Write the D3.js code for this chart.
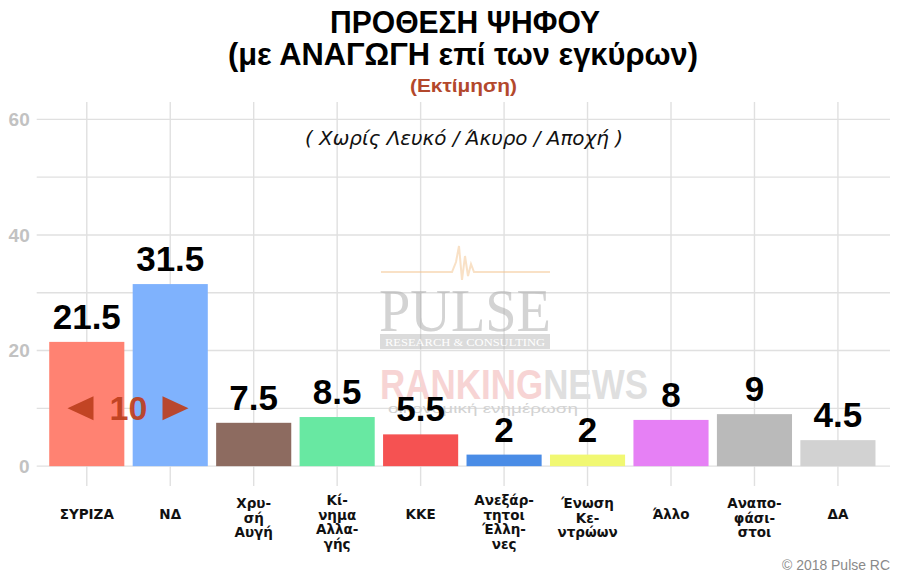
<!DOCTYPE html>
<html>
<head>
<meta charset="utf-8">
<script src="https://cdn.jsdelivr.net/npm/d3@7"></script>
<style>
html,body{margin:0;padding:0;background:#fff;}
svg{display:block;}
</style>
</head>
<body>
<svg id="chart" width="900" height="577"></svg>
<script>
// ---- data ----
const categories = ["ΣΥΡΙΖΑ","ΝΔ","Χρυσή Αυγή","Κίνημα Αλλαγής","ΚΚΕ","Ανεξάρτητοι Έλληνες","Ένωση Κεντρώων","Άλλο","Αναποφάσιστοι","ΔΑ"];
const tickLabels = [["ΣΥΡΙΖΑ"],["ΝΔ"],["Χρυ-","σή","Αυγή"],["Κί-","νημα","Αλλα-","γής"],["ΚΚΕ"],["Ανεξάρ-","τητοι","Έλλη-","νες"],["Ένωση","Κε-","ντρώων"],["Άλλο"],["Αναπο-","φάσι-","στοι"],["ΔΑ"]];
const values = [21.5,31.5,7.5,8.5,5.5,2,2,8,9,4.5];
const colors = ["#ff8272","#7fb2fd","#8d6b60","#68e8a2","#f55252","#4a8ce6","#f1f872","#e680f5","#bababa","#d2d2d2"];
const yTicks = [0,20,40,60];
const yMinorTicks = [10,30,50];
const gapValue = 10;
const titleLines = ["ΠΡΟΘΕΣΗ ΨΗΦΟΥ","(με ΑΝΑΓΩΓΗ επί των εγκύρων)"];
const estimateText = "(Εκτίμηση)";
const subtitleText = "( Χωρίς Λευκό / Άκυρο / Αποχή )";
const captionText = "© 2018 Pulse RC";

(function(){
// ---- layout ----
const svg = d3.select("#chart");
const pLeft = 36.7, pRight = 888, pTop = 102, pBottom = 483.5;
const x = d3.scaleBand().domain(categories).range([pLeft, pRight]).paddingInner(0.1).paddingOuter(0.15);
const y = d3.scaleLinear().domain([-3, 63]).range([pBottom, pTop]);

const narrow = "'Liberation Sans Narrow','Arial Narrow','Liberation Sans',Arial,sans-serif";
const sans = "'Liberation Sans',Arial,sans-serif";
const human = "'DejaVu Sans',Verdana,sans-serif";
const humanC = "'DejaVu Sans Condensed','DejaVu Sans',Verdana,sans-serif";

// gridlines
const grid = svg.append("g");
grid.selectAll("line.h").data(yTicks.concat(yMinorTicks)).join("line")
  .attr("x1", pLeft).attr("x2", 890)
  .attr("y1", d => y(d)).attr("y2", d => y(d))
  .attr("stroke", "#e0e0e0").attr("stroke-width", 1.4);
grid.selectAll("line.v").data(categories).join("line")
  .attr("x1", d => x(d) + x.bandwidth()/2).attr("x2", d => x(d) + x.bandwidth()/2)
  .attr("y1", pTop).attr("y2", pBottom + 2.5)
  .attr("stroke", "#e0e0e0").attr("stroke-width", 1.4);

// y axis labels
const yAxis = svg.append("g").attr("transform", `translate(${pLeft},0)`)
  .call(d3.axisLeft(y).tickValues(yTicks).tickSize(0).tickPadding(7));
yAxis.select(".domain").remove();
yAxis.selectAll("text").attr("font-family", sans).attr("font-weight", "bold")
  .attr("font-size", 19).attr("fill", "#c2c2c2");

// watermark: PULSE
const wm = svg.append("g").attr("opacity", 0.5);
wm.append("path")
  .attr("d", "M381,272 L452,272 L456,262 L459,246 L462,280 L465,256 L468,276 L471,264 L474,272 L550,272")
  .attr("fill", "none").attr("stroke", "#f4c48e").attr("stroke-width", 2);
wm.append("text").attr("x", 465).attr("y", 331).attr("text-anchor", "middle")
  .attr("font-family", "'Liberation Serif','Times New Roman',serif").attr("font-size", 62)
  .attr("textLength", 172).attr("lengthAdjust", "spacingAndGlyphs")
  .attr("fill", "#a8a8a8").text("PULSE");
wm.append("rect").attr("x", 380).attr("y", 334).attr("width", 170).attr("height", 15).attr("fill", "#b8b8b8");
wm.append("text").attr("x", 465).attr("y", 346).attr("text-anchor", "middle")
  .attr("font-family", "'Liberation Serif',serif").attr("font-size", 11)
  .attr("textLength", 160).attr("lengthAdjust", "spacingAndGlyphs")
  .attr("fill", "#fff").text("RESEARCH & CONSULTING");
// watermark: RANKINGNEWS
const wm2 = svg.append("text").attr("x", 380).attr("y", 399)
  .attr("font-family", sans).attr("font-weight", "bold").attr("font-size", 43)
  .attr("textLength", 268).attr("lengthAdjust", "spacingAndGlyphs");
wm2.append("tspan").attr("fill", "#f7d4d4").text("RANKING");
wm2.append("tspan").attr("fill", "#dfdfdf").text("NEWS");
svg.append("text").attr("x", 388).attr("y", 413)
  .attr("font-family", sans).attr("font-size", 12).attr("fill", "#d2d2d2")
  .attr("textLength", 190).attr("lengthAdjust", "spacingAndGlyphs")
  .text("οικονομική ενημέρωση");

// bars
svg.append("g").selectAll("rect").data(values).join("rect")
  .attr("x", (d,i) => x(categories[i]))
  .attr("width", x.bandwidth())
  .attr("y", d => y(d))
  .attr("height", d => y(0) - y(d))
  .attr("fill", (d,i) => colors[i]);

// value labels
svg.append("g").selectAll("text").data(values).join("text")
  .attr("x", (d,i) => x(categories[i]) + x.bandwidth()/2)
  .attr("y", d => y(d) - 13)
  .attr("text-anchor", "middle")
  .attr("font-family", sans).attr("font-weight", "bold").attr("font-size", 35)
  .attr("fill", "#000")
  .text(d => String(d));

// gap annotation between first two bars
const c0 = x(categories[0]) + x.bandwidth()/2, c1 = x(categories[1]) + x.bandwidth()/2;
const gx = (c0 + c1)/2, gy = y(gapValue);
const ann = svg.append("g").attr("fill", "#bd3f1e").attr("opacity", 0.92);
ann.append("text").attr("x", gx).attr("y", gy + 12).attr("text-anchor", "middle")
  .attr("font-family", sans).attr("font-weight", "bold").attr("font-size", 34)
  .text(String(gapValue));
ann.append("path").attr("d", `M${gx-35},${gy-12} L${gx-35},${gy+12} L${gx-61},${gy} Z`);
ann.append("path").attr("d", `M${gx+34},${gy-12} L${gx+34},${gy+12} L${gx+60},${gy} Z`);

// x tick labels
const xl = svg.append("g");
categories.forEach((c, i) => {
  const lines = tickLabels[i];
  const n = lines.length;
  const first = n === 1 ? 519 : 508 - (n - 3) * 3;
  const cx = x(c) + x.bandwidth()/2;
  const t = xl.append("text")
    .attr("x", cx)
    .attr("text-anchor", "middle")
    .attr("font-family", human).attr("font-weight", "bold").attr("font-size", 13.5)
    .attr("fill", "#111");
  lines.forEach((ln, k) => {
    t.append("tspan").attr("x", cx).attr("y", first + k * 14.6).text(ln);
  });
});

// titles
svg.append("text").attr("x", 465).attr("y", 33).attr("text-anchor", "middle")
  .attr("font-family", narrow).attr("font-weight", "bold").attr("font-size", 31)
  .attr("textLength", 270).attr("lengthAdjust", "spacingAndGlyphs")
  .attr("fill", "#000").text(titleLines[0]);
svg.append("text").attr("x", 463).attr("y", 65).attr("text-anchor", "middle")
  .attr("font-family", narrow).attr("font-weight", "bold").attr("font-size", 31)
  .attr("textLength", 470).attr("lengthAdjust", "spacingAndGlyphs")
  .attr("fill", "#000").text(titleLines[1]);
svg.append("text").attr("x", 463.5).attr("y", 92).attr("text-anchor", "middle")
  .attr("font-family", narrow).attr("font-weight", "bold").attr("font-size", 19)
  .attr("textLength", 107).attr("lengthAdjust", "spacingAndGlyphs")
  .attr("fill", "#b3482c").text(estimateText);

// subtitle
svg.append("text").attr("x", 464).attr("y", 145).attr("text-anchor", "middle")
  .attr("font-family", humanC).attr("font-style", "italic").attr("font-size", 20)
  .attr("textLength", 318).attr("lengthAdjust", "spacingAndGlyphs")
  .attr("fill", "#111").text(subtitleText);

// caption
svg.append("text").attr("x", 890).attr("y", 570).attr("text-anchor", "end")
  .attr("font-family", narrow).attr("font-size", 14)
  .attr("textLength", 108).attr("lengthAdjust", "spacingAndGlyphs")
  .attr("fill", "#8a8a8a").text(captionText);
})();
</script>
</body>
</html>
